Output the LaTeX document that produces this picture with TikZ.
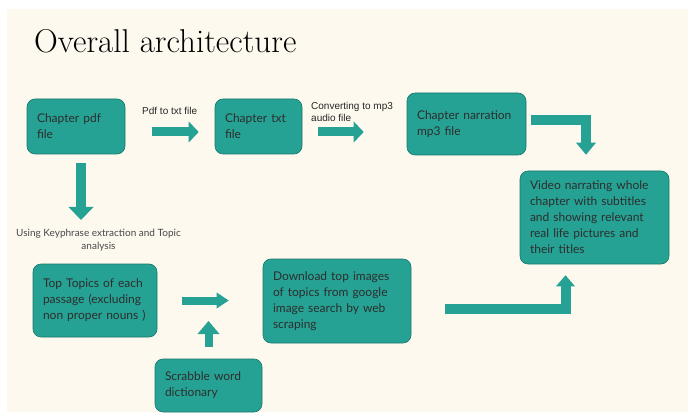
\documentclass[tikz,border=0pt]{standalone}
\usepackage{fontspec}
\usetikzlibrary{positioning}
\usetikzlibrary{arrows.meta}
\newfontfamily\boxfont{Lato}
\newfontfamily\arrowfont{Liberation Sans}
\definecolor{bgcream}{RGB}{253,249,239}
\definecolor{boxteal}{RGB}{38,162,148}
\definecolor{edgeteal}{RGB}{24,118,108}
\definecolor{boxtext}{RGB}{45,45,45}
\tikzset{
        % Process boxes
        node_box/.style={rectangle, rounded corners=8pt, fill=boxteal, draw=edgeteal, line width=0.6pt, text=boxtext, align=left, inner xsep=10pt, inner ysep=0pt, font=\boxfont\fontsize{12}{16}\selectfont},
        % Block arrows
        arrow_block/.style={draw=boxteal, line width=9pt, -{Triangle[width=21pt,length=10pt,line width=0pt]}},
        % Labels above arrows
        label_arrow/.style={align=left, inner sep=0pt, text=black!85, font=\arrowfont\fontsize{10}{12.5}\selectfont},
        % Label under the first step
        label_step/.style={align=center, inner sep=0pt, text=black!72, font=\boxfont\fontsize{10}{12.5}\selectfont}
}

\begin{document}
\begin{tikzpicture}[x=1pt, y=-1pt]
    \useasboundingbox (0,0) rectangle (688,414);
    \fill[bgcream] (7,9) rectangle (688,412);
    \node[anchor=base west, inner sep=0pt, font=\fontsize{33}{40}\selectfont] (title) at (34,53) {Overall architecture};

    % Boxes
    \node[node_box, text width=78pt, minimum height=55pt] (pdf) at (76,126.5) {Chapter pdf\\file};
    \node[node_box, text width=67pt, minimum height=55pt] (txt) at (258.5,126.5) {Chapter txt\\file};
    \node[node_box, text width=99pt, minimum height=62pt] (mp3) at (466.5,124) {Chapter narration\\mp3 file};
    \node[node_box, text width=129pt, minimum height=93pt] (video) at (594.5,217.5) {Video narrating whole\\chapter with subtitles\\and showing relevant\\real life pictures and\\their titles};
    \node[node_box, text width=104pt, minimum height=73pt] (topics) at (95,300.5) {Top Topics of each\\passage (excluding\\non proper nouns )};
    \node[node_box, text width=128pt, minimum height=84pt] (download) at (337,301) {Download top images\\of topics from google\\image search by web\\scraping};
    \node[node_box, text width=87pt, minimum height=53pt] (scrabble) at (208.5,385.5) {Scrabble word\\dictionary};

    % Labels
    \node[label_arrow, anchor=base west] (pdflbl) at (142,115) {Pdf to txt file};
    \node[label_arrow, anchor=base west] (mp3lbl) at (311,122) {Converting to mp3\\audio file};
    \node[label_step, anchor=north] (keyphrase) at (98.5,229) {Using Keyphrase extraction and Topic\\analysis};

    % Arrows
    \draw[arrow_block, shorten <=27pt, shorten >=16pt] ([yshift=-5.5pt]pdf.east) -- ([yshift=-5.5pt]txt.west);
    \draw[arrow_block, shorten <=16pt, shorten >=43pt] ([yshift=-5.5pt]txt.east) -- ([yshift=-5.5pt]txt.east -| mp3.west);
    \draw[arrow_block, line width=10pt, -{Triangle[width=20pt,length=12pt,line width=0pt]}, shorten <=5pt, shorten >=16pt] ([yshift=4pt]mp3.east) -| ([xshift=-8.5pt]video.north);
    \draw[arrow_block, line width=10pt, -{Triangle[width=25pt,length=13pt,line width=0pt]}, shorten <=9pt, shorten >=9pt] ([xshift=5pt]pdf.south) -- ([xshift=5pt]pdf.south |- keyphrase.north);
    \draw[arrow_block, line width=8pt, -{Triangle[width=16pt,length=12pt,line width=0pt]}, shorten <=25pt, shorten >=34pt] (topics.east) -- (topics.east -| download.west);
    \draw[arrow_block, line width=8pt, -{Triangle[width=22pt,length=13pt,line width=0pt]}, shorten <=12pt, shorten >=20.5pt] (scrabble.north) -- (scrabble.north |- topics.east);
    \draw[arrow_block, line width=10pt, -{Triangle[width=19pt,length=11pt,line width=0pt]}, shorten <=34pt, shorten >=11pt] ([yshift=-8pt]download.east) -| ([xshift=-29pt]video.south);
\end{tikzpicture}
\end{document}
